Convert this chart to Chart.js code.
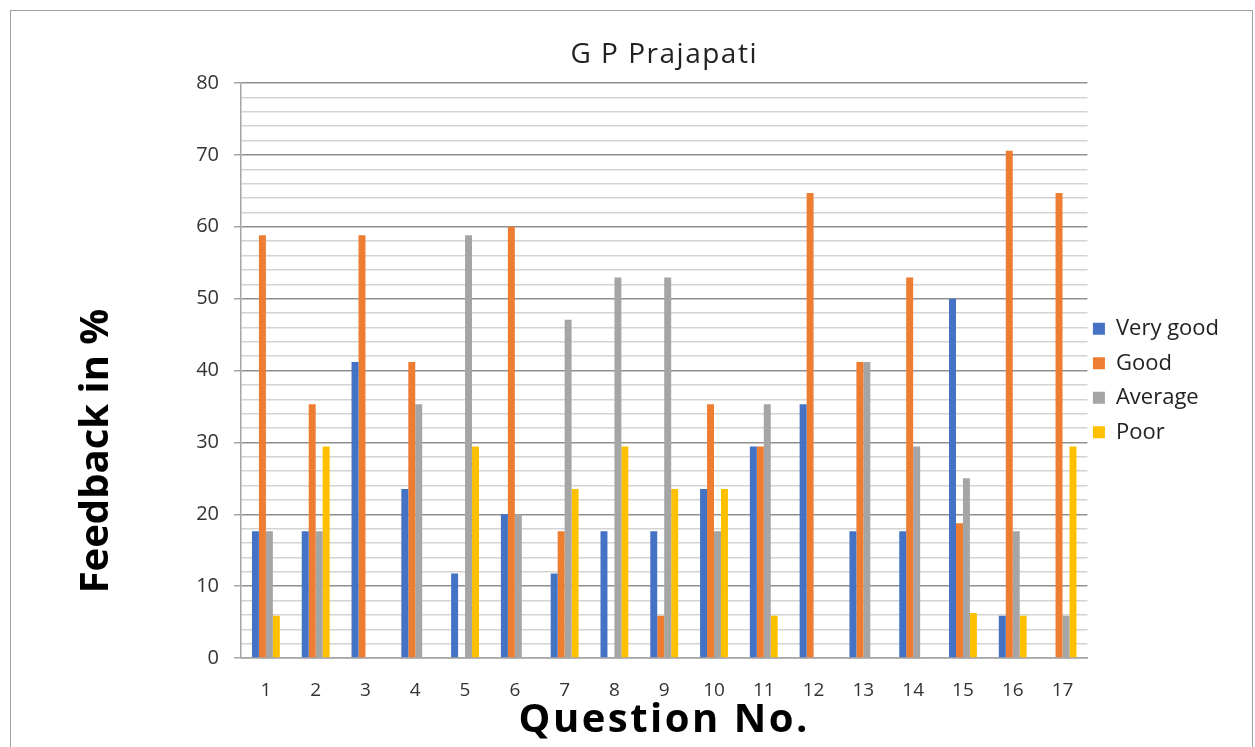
<!DOCTYPE html>
<html>
<head>
<meta charset="utf-8">
<script src="https://cdn.jsdelivr.net/npm/chart.js@4.4.1/dist/chart.umd.min.js"></script>
<style>
  html, body { margin: 0; padding: 0; background: #fff; }
  #frame {
    position: absolute; left: 10px; top: 10px; width: 1243px; height: 760px;
    border: 1px solid #a0a0a0; box-sizing: border-box;
  }
  #wrap { position: absolute; left: 0; top: 0; width: 1255px; height: 747px; }
</style>
</head>
<body>
<div id="frame"></div>
<div id="wrap"><canvas id="chart"></canvas></div>
<script>
// data
const questions = ['1','2','3','4','5','6','7','8','9','10','11','12','13','14','15','16','17'];
const veryGood = [17.65, 17.65, 41.18, 23.53, 11.76, 20, 11.76, 17.65, 17.65, 23.53, 29.41, 35.29, 17.65, 17.65, 50, 5.88, 0];
const good     = [58.82, 35.29, 58.82, 41.18, 0, 60, 17.65, 0, 5.88, 35.29, 29.41, 64.71, 41.18, 52.94, 18.75, 70.59, 64.71];
const average  = [17.65, 17.65, 0, 35.29, 58.82, 20, 47.06, 52.94, 52.94, 17.65, 35.29, 0, 41.18, 29.41, 25, 17.65, 5.88];
const poor     = [5.88, 29.41, 0, 0, 29.41, 0, 23.53, 29.41, 23.53, 23.53, 5.88, 0, 0, 0, 6.25, 5.88, 29.41];
const yTicks = [0, 10, 20, 30, 40, 50, 60, 70, 80];

const FONT = "'Open Sans', 'Liberation Sans', sans-serif";

// titles drawn at the spots they sit in the reference
const titlesPlugin = {
  id: 'titles',
  afterLayout(chart) {
    // legend sits closer to the plot and higher than chart.js puts it
    const lg = chart.legend;
    lg.left = chart.chartArea.right - 7;
    lg.top -= 20;
    lg.bottom -= 20;
  },
  afterDraw(chart) {
    const { ctx, chartArea } = chart;
    const cx = (chartArea.left + chartArea.right) / 2;
    ctx.save();
    ctx.textAlign = 'center';
    ctx.textBaseline = 'middle';
    ctx.font = `400 28px ${FONT}`;
    ctx.letterSpacing = '1.5px';
    ctx.fillStyle = '#222';
    ctx.fillText('G P Prajapati', cx, 55);
    ctx.fillStyle = '#000';
    ctx.font = `700 40px ${FONT}`;
    ctx.letterSpacing = '2.5px';
    ctx.fillText('Question No.', cx, 721);
    ctx.letterSpacing = '0px';
    ctx.translate(97, 451);
    ctx.rotate(-Math.PI / 2);
    ctx.fillText('Feedback in %', 0, 0);
    ctx.restore();
  }
};

const isMajor = v => yTicks.includes(v);

new Chart(document.getElementById('chart'), {
  type: 'bar',
  data: {
    labels: questions,
    datasets: [
      { label: 'Very good', data: veryGood, backgroundColor: '#4472C4' },
      { label: 'Good', data: good, backgroundColor: '#ED7D31' },
      { label: 'Average', data: average, backgroundColor: '#A5A5A5' },
      { label: 'Poor', data: poor, backgroundColor: '#FFC000' }
    ]
  },
  options: {
    responsive: true,
    maintainAspectRatio: false,
    animation: false,
    layout: { padding: { left: 141, top: 83, right: 19, bottom: 29 } },
    datasets: { bar: { categoryPercentage: 0.56, barPercentage: 1 } },
    scales: {
      x: {
        grid: { display: false },
        border: { display: true, color: '#a6a6a6', width: 1.5 },
        ticks: { color: '#333', font: { family: FONT, size: 19 }, padding: 13, maxRotation: 0 },
        afterFit: s => { s.height = 60; }
      },
      y: {
        min: 0, max: 80,
        border: { display: true, color: '#a6a6a6', width: 1.5 },
        grid: {
          color: c => isMajor(c.tick.value) ? '#8f8f8f' : '#d3d3d3',
          lineWidth: 1.5,
          tickLength: 7,
          tickColor: c => isMajor(c.tick.value) ? '#a6a6a6' : 'rgba(0,0,0,0)'
        },
        ticks: {
          stepSize: 2,
          autoSkip: false,
          padding: 15,
          color: '#333',
          font: { family: FONT, size: 20 },
          callback: v => isMajor(v) ? v : ''
        },
        afterFit: s => { s.width = 100; }
      }
    },
    plugins: {
      legend: {
        position: 'right',
        labels: {
          boxWidth: 12, boxHeight: 12, padding: 12.5,
          color: '#222',
          font: { family: FONT, size: 22 }
        }
      },
      title: { display: false },
      tooltip: { enabled: false }
    }
  },
  plugins: [titlesPlugin]
});
</script>
</body>
</html>
